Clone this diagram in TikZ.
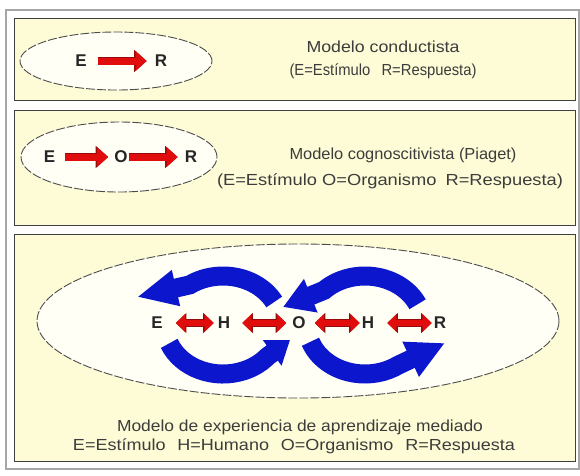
\documentclass[tikz,border=0pt]{standalone}
\usepackage{fontspec}
\usepackage{graphicx}
\setmainfont{Liberation Sans}
\usetikzlibrary{arrows.meta,shapes.geometric,calc}
\definecolor{panelfill}{RGB}{253,252,214}
\definecolor{ellfill}{RGB}{255,255,246}
\definecolor{loopblue}{RGB}{12,22,205}
\definecolor{arrred}{RGB}{225,12,12}
\definecolor{arrdark}{RGB}{150,10,10}
\definecolor{txtgray}{RGB}{60,60,60}
\newcommand\fitw[2]{\resizebox{#1pt}{\height}{#2}}
\begin{document}
\begin{tikzpicture}[x=1pt,y=-1pt,
  panel/.style={draw=black!75, line width=1pt, fill=panelfill},
  ell/.style={ellipse, draw=black!70, line width=0.9pt, dash pattern=on 9pt off 2pt, fill=ellfill, inner sep=0pt},
  lett/.style={font=\fontsize{17}{20}\selectfont\bfseries, text=black!85, inner sep=1pt},
  captxt/.style={font=\fontsize{16}{19}\selectfont, text=txtgray, inner sep=0pt},
  redarr/.style={draw=arrred, line width=7pt, -{Triangle[length=11pt,width=19pt]},
     preaction={draw=arrdark, line width=8.6pt, -{Triangle[length=12.5pt,width=21.5pt]}}},
  redboth/.style={draw=arrred, line width=6.5pt, {Triangle[length=9pt,width=17pt]}-{Triangle[length=9pt,width=17pt]},
     preaction={draw=arrdark, line width=8pt, {Triangle[length=10.5pt,width=19.5pt]}-{Triangle[length=10.5pt,width=19.5pt]}}},
  band/.style={draw=loopblue, line width=19pt}]
\useasboundingbox (0,0) rectangle (580,475);
\fill[white] (0,0) rectangle (580,475);
\draw[gray!70, line width=1.5pt] (6,10) rectangle (579,469);
% panels
\draw[panel] (14,18) rectangle (575,100);
\draw[panel] (14,110) rectangle (575,225);
\draw[panel] (14,234) rectangle (575,461);
% ellipses
\node[ell, minimum width=192pt, minimum height=58pt] (ell1) at (116,61) {};
\node[ell, minimum width=196pt, minimum height=70pt] (ell2) at (119,157) {};
\node[ell, minimum width=522pt, minimum height=154pt] (ell3) at (298,321) {};
% blue loops
\coordinate (Lc) at (223,325);
\coordinate (Rc) at (365,325);
\coordinate (tlTip) at (137,297);
\coordinate (trTip) at (283,307);
\coordinate (blTip) at (290,340);
\coordinate (brTip) at (445,343);
\draw[band, -{Triangle[length=40pt,width=34pt]}] ($(Lc)+(-28:58 and 49)$) arc[start angle=-28, end angle=-125, x radius=58, y radius=49] -- (tlTip);
\draw[band, -{Triangle[length=30pt,width=34pt]}] ($(Rc)+(-25:58 and 49)$) arc[start angle=-25, end angle=-135, x radius=58, y radius=49] -- (trTip);
\draw[band, -{Triangle[length=22pt,width=30pt]}] ($(Lc)+(158:58 and 49)$) arc[start angle=158, end angle=40, x radius=58, y radius=49] -- (blTip);
\draw[band, -{Triangle[length=38pt,width=36pt]}] ($(Rc)+(160:58 and 49)$) arc[start angle=160, end angle=55, x radius=58, y radius=49] -- (brTip);
% panel 1 letters
\node[lett] (aE) at (81,61) {E};
\node[lett] (aR) at (161,61) {R};
\draw[redarr, shorten <=10pt, shorten >=7pt] (aE.east) -- (aR.west);
% panel 2 letters
\node[lett] (bE) at (49.5,157) {E};
\node[lett] (bO) at (121,157) {O};
\node[lett] (bR) at (191,157) {R};
\draw[redarr, shorten <=9pt, shorten >=5pt] (bE.east) -- (bO.west);
\draw[redarr, shorten <=0pt, shorten >=6pt] (bO.east) -- (bR.west);
% panel 3 letters
\node[lett] (cE) at (157,323) {E};
\node[lett] (cH1) at (224,323) {H};
\node[lett] (cO) at (299,323) {O};
\node[lett] (cH2) at (368,323) {H};
\node[lett] (cR) at (440,323) {R};
\draw[redboth, shorten <=12pt, shorten >=3pt] (cE.east) -- (cH1.west);
\draw[redboth, shorten <=11pt, shorten >=5pt] (cH1.east) -- (cO.west);
\draw[redboth, shorten <=8pt, shorten >=1pt] (cO.east) -- (cH2.west);
\draw[redboth, shorten <=12pt, shorten >=1pt] (cH2.east) -- (cR.west);
% captions
\node[captxt] (t1a) at (383,47) {\fitw{153}{Modelo conductista}};
\node[captxt] (t1b) at (383,71) {\fitw{187}{(E=Estímulo\hspace{12pt}R=Respuesta)}};
\node[captxt] (t2a) at (403,155) {\fitw{227}{Modelo cognoscitivista (Piaget)}};
\node[captxt] (t2b) at (390,181) {\fitw{346}{(E=Estímulo O=Organismo\hspace{8pt}R=Respuesta)}};
\node[captxt] (t3a) at (300,427) {\fitw{366}{Modelo de experiencia de aprendizaje mediado}};
\node[captxt] (t3b) at (294,446) {\fitw{442}{E=Estímulo\hspace{6pt} H=Humano\hspace{6pt} O=Organismo\hspace{6pt} R=Respuesta}};
\end{tikzpicture}
\end{document}
